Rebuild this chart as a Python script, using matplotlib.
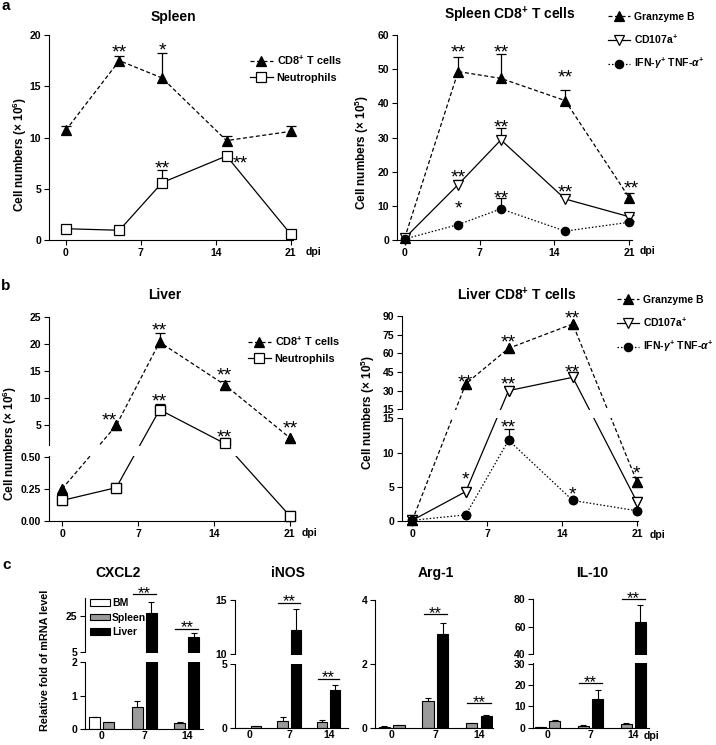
import numpy as np
import matplotlib
matplotlib.use("Agg")
import matplotlib.pyplot as plt

plt.rcParams['font.family'] = ['Liberation Sans', 'DejaVu Sans']
plt.rcParams['font.weight'] = 'bold'
plt.rcParams['mathtext.fontset'] = 'custom'
plt.rcParams['mathtext.rm'] = 'Liberation Sans:bold'
plt.rcParams['mathtext.it'] = 'Liberation Sans:bold:italic'
plt.rcParams['mathtext.bf'] = 'Liberation Sans:bold'
plt.rcParams['axes.linewidth'] = 0.8

# ---------------- data ----------------
days = [0, 5, 9, 15, 21]
dpi_ticks = [0, 7, 14, 21]

# a, spleen (x10^6)
spl_cd8 = [10.7, 17.5, 15.8, 9.7, 10.6]
spl_cd8_err = [0.4, 0.5, 2.4, 0.4, 0.5]
spl_neu = [1.1, 0.95, 5.6, 8.2, 0.55]
spl_neu_err = [0, 0, 1.2, 0.2, 0]
# a, spleen CD8+ subsets (x10^5)
spl_gzb = [0.5, 49.3, 47.3, 40.8, 12.3]
spl_gzb_err = [0, 4.3, 7.1, 3.2, 1.5]
spl_cd107 = [0.5, 16.2, 29.3, 12.0, 6.8]
spl_cd107_err = [0, 1.5, 3.6, 0.8, 0.5]
spl_ifn = [0.3, 4.5, 9.1, 2.6, 5.2]
spl_ifn_err = [0, 0, 3.2, 0, 0.3]

# b, liver (x10^6)
liv_cd8 = [0.25, 4.9, 20.3, 12.4, 2.6]
liv_cd8_err = [0, 0, 1.6, 0.8, 0]
liv_neu = [0.16, 0.26, 7.8, 1.55, 0.04]
liv_neu_err = [0, 0, 1.1, 0, 0]
# b, liver CD8+ subsets (x10^5)
liv_gzb = [0.1, 35.5, 64.0, 83.6, 5.75]
liv_gzb_err = [0, 0, 0, 0, 0.7]
liv_cd107 = [0.1, 4.3, 30.0, 40.7, 2.8]
liv_cd107_err = [0, 0, 0, 0, 0]
liv_ifn = [0.1, 0.9, 11.8, 3.0, 1.5]
liv_ifn_err = [0, 0, 1.7, 0, 0]

stars_a1 = [(5, 18.9, '**'), (9, 19.1, '*'), (9, 7.6, '**'), (16.3, 8.1, '**')]
stars_a2 = [(5, 56.6, '**'), (9, 56.8, '**'), (15, 49.3, '**'), (21.2, 16.8, '**'),
            (5, 20.0, '**'), (9, 34.6, '**'), (15, 15.6, '**'),
            (5, 10.9, '*'), (9, 13.8, '**')]
stars_b1 = [(4.4, 7.0, '**'), (9, 23.5, '**'), (15, 15.2, '**'), (21, 5.4, '**'),
            (9, 10.5, '**'), (15, 3.8, '**')]
stars_b2 = [(5, 41.8, '**'), (9, 73.4, '**'), (15, 92.7, '**'), (21, 7.9, '*'),
            (5, 6.9, '*'), (9, 39.9, '**'), (15, 49.2, '**'),
            (9, 14.5, '**'), (15, 4.8, '*')]

# c, relative mRNA (groups 0, 7, 14 dpi)
groups = ['0', '7', '14']
genes = ['CXCL2', 'iNOS', 'Arg-1', 'IL-10']
bm = {'CXCL2': [0.35], 'iNOS': [0.03], 'Arg-1': [0.05], 'IL-10': [0.2]}
bm_err = {'CXCL2': [0.01], 'iNOS': [0.0], 'Arg-1': [0.01], 'IL-10': [0.05]}
spleen = {'CXCL2': [0.20, 0.67, 0.19], 'iNOS': [0.17, 0.57, 0.47],
          'Arg-1': [0.09, 0.85, 0.16], 'IL-10': [3.1, 0.9, 1.8]}
spleen_err = {'CXCL2': [0.02, 0.16, 0.02], 'iNOS': [0.02, 0.3, 0.18],
              'Arg-1': [0.01, 0.1, 0.02], 'IL-10': [0.5, 0.2, 0.3]}
liver = {'CXCL2': [26.7, 13.5], 'iNOS': [12.2, 3.0],
         'Arg-1': [2.95, 0.38], 'IL-10': [13.5, 63.5]}
liver_err = {'CXCL2': [6.3, 2.2], 'iNOS': [2.0, 0.36],
             'Arg-1': [0.33, 0.05], 'IL-10': [4.2, 12.0]}
sig = {'CXCL2': [37, 18], 'iNOS': [14.75, 3.87], 'Arg-1': [3.55, 0.78], 'IL-10': [20.9, 80]}

# ---------------- helpers ----------------
W, H = 716, 745
fig = plt.figure(figsize=(W / 100, H / 100), dpi=100)


def px_axes(l, t, r, b):
    ax = fig.add_axes([l / W, 1 - b / H, (r - l) / W, (b - t) / H])
    ax.spines[['top', 'right']].set_visible(False)
    ax.tick_params(direction='out', length=3.5, width=0.8, labelsize=7.5, pad=2)
    ax.patch.set_alpha(0)
    return ax


def broken(y0, y1, k0, k1, gap):
    a = y0 * k0

    def fwd(y):
        y = np.asarray(y, float)
        return np.where(y <= y0, y * k0,
                        np.where(y >= y1, a + gap + (y - y1) * k1,
                                 a + (y - y0) / (y1 - y0) * gap))

    def inv(v):
        v = np.asarray(v, float)
        return np.where(v <= a, v / k0,
                        np.where(v >= a + gap, y1 + (v - a - gap) / k1,
                                 y0 + (v - a) / gap * (y1 - y0)))
    return fwd, inv


def cut(ax, y0, y1, funcs, wpx, right=0.0):
    fwd, inv = funcs
    lo = float(inv(fwd(y0) + 0.7))
    hi = float(inv(fwd(y1) - 0.7))
    ax.axhspan(lo, hi, xmin=-2.5 / wpx, xmax=1 + right, color='white', zorder=4,
               clip_on=False, lw=0)


def up_err(ax, x, y, e, cap=3.5, lw=0.9):
    x, y, e = np.asarray(x, float), np.asarray(y, float), np.asarray(e, float)
    m = e > 0
    if not m.any():
        return
    c = ax.errorbar(x[m], y[m], yerr=[np.zeros(m.sum()), e[m]], fmt='none', ecolor='k',
                    elinewidth=lw, capsize=cap, capthick=lw, zorder=2.5)
    c[1][0].set_visible(False)
    for art in c[1] + c[2]:
        art.set_clip_on(False)


def star(ax, x, y, s, size=14, dy=0.0):
    ax.annotate(s, (x, y), xytext=(0, dy - 0.57 * size), textcoords='offset points',
                ha='center', va='baseline', fontsize=size, fontweight='normal',
                zorder=7, annotation_clip=False)


def series(ax, y, err, style, label, overlay=False):
    ls, dashes, marker, fc, ms = style
    kw = dict(color='k', lw=0.9, marker=marker, ms=ms, mfc=fc, mec='k', mew=0.9)
    ln, = ax.plot(days, y, ls=ls, label=label, zorder=3, clip_on=False, **kw)
    if dashes:
        ln.set_dashes(dashes)
    up_err(ax, days, y, err)
    if overlay:
        ax.plot(days, y, ls='none', zorder=6, clip_on=False, **kw)


DASH = ('--', (3.2, 2.0), '^', 'k', 6.5)
SOLID_SQ = ('-', None, 's', 'white', 6.5)
SOLID_TRI = ('-', None, 'v', 'white', 6.5)
DOT = (':', (1.2, 1.6), 'o', 'k', 6)


def xdays(ax, xmin, xmax):
    ax.set_xlim(xmin, xmax)
    ax.set_xticks(dpi_ticks)


def legend(ax, x, y, spacing, size=7.8):
    ax.legend(loc='upper left', bbox_to_anchor=(x / W, 1 - y / H), bbox_transform=fig.transFigure,
              frameon=False, fontsize=size, handlelength=2.1, handletextpad=0.35,
              labelspacing=spacing, borderpad=0, borderaxespad=0)


def ftext(x, y, s, **kw):
    fig.text(x / W, 1 - y / H, s, **kw)


# ---------------- a: spleen ----------------
ax = px_axes(49, 35, 293, 240)
series(ax, spl_cd8, spl_cd8_err, DASH, 'CD8$^{+}$ T cells')
series(ax, spl_neu, spl_neu_err, SOLID_SQ, 'Neutrophils')
xdays(ax, -1.56, 21.2)
ax.set_ylim(0, 20)
ax.set_yticks([0, 5, 10, 15, 20])
for x, y, s in stars_a1:
    star(ax, x, y, s)
legend(ax, 250, 54, 0.5)

ax = px_axes(397, 35, 631.5, 240)
series(ax, spl_gzb, spl_gzb_err, DASH, 'Granzyme B')
series(ax, spl_cd107, spl_cd107_err, SOLID_TRI, 'CD107a$^{+}$')
series(ax, spl_ifn, spl_ifn_err, DOT, 'IFN-$\\gamma^{+}$ TNF-$\\alpha^{+}$')
xdays(ax, -0.71, 21.2)
ax.set_ylim(0, 60)
ax.set_yticks(range(0, 61, 10))
for x, y, s in stars_a2:
    star(ax, x, y, s)
legend(ax, 608, 12, 1.0, size=7.5)

# ---------------- b: liver ----------------
ax = px_axes(49, 316.7, 292, 521)
f_b1 = broken(0.5, 1.3, 128.6, 5.417, 12)
ax.set_yscale('function', functions=f_b1)
series(ax, liv_cd8, liv_cd8_err, DASH, 'CD8$^{+}$ T cells', overlay=True)
series(ax, liv_neu, liv_neu_err, SOLID_SQ, 'Neutrophils', overlay=True)
xdays(ax, -1.2, 21.2)
ax.set_ylim(0, 25)
ax.set_yticks([0, 0.25, 0.5, 5, 10, 15, 20, 25])
ax.set_yticklabels(['0.00', '0.25', '0.50', '5', '10', '15', '20', '25'])
cut(ax, 0.5, 1.3, f_b1, 243, right=0.02)
for x, y, s in stars_b1:
    star(ax, x, y, s)
legend(ax, 248, 335, 0.5)

ax = px_axes(401.7, 316, 638, 521)
f_b2 = broken(15, 15.001, 6.847, 1.244, 9)
ax.set_yscale('function', functions=f_b2)
series(ax, liv_gzb, liv_gzb_err, DASH, 'Granzyme B', overlay=True)
series(ax, liv_cd107, liv_cd107_err, SOLID_TRI, 'CD107a$^{+}$', overlay=True)
series(ax, liv_ifn, liv_ifn_err, DOT, 'IFN-$\\gamma^{+}$ TNF-$\\alpha^{+}$', overlay=True)
xdays(ax, -0.99, 21.1)
ax.set_ylim(0, 90)
ax.set_yticks([0, 5, 10, 15, 15.001, 30, 45, 60, 75, 90])
ax.set_yticklabels(['0', '5', '10', '15', '15', '30', '45', '60', '75', '90'])
cut(ax, 15, 15.001, f_b2, 236, right=0.02)
for x, y, s in stars_b2:
    star(ax, x, y, s)
legend(ax, 617, 295, 1.0, size=7.5)

# ---------------- c: mRNA bars ----------------
off, bw = 0.165, 0.26
bm_pos = [0 - off]
spleen_pos = [0 + off, 1 - off, 2 - off]
liver_pos = [1 + off, 2 + off]

c_axes = {
    'CXCL2': ((85, 598, 203, 729), (-0.39, 2.38), broken(2, 5, 33.25, 1.8, 10.4), (2, 5), 35,
              [0, 1, 2, 5, 25]),
    'iNOS': ((235, 600, 348, 728.3), (-0.37, 2.49), broken(5, 10, 12.8, 10.8, 10.3), (5, 10), 15,
             [0, 5, 10, 15]),
    'Arg-1': ((375, 600, 493, 728.3), (-0.38, 2.32), None, None, 4, [0, 2, 4]),
    'IL-10': ((533.3, 599, 649.3, 727.7), (-0.33, 2.37), broken(30, 40, 2.123, 1.375, 10), (30, 40), 80,
              [0, 10, 20, 30, 40, 60, 80]),
}
titles_x = {'CXCL2': 118, 'iNOS': 288, 'Arg-1': 436, 'IL-10': 592}

for g in genes:
    box, xl, funcs, brk, top, yt = c_axes[g]
    ax = px_axes(*box)
    ax.tick_params(axis='x', length=0, pad=1.5)
    if funcs is not None:
        ax.set_yscale('function', functions=funcs)
    ax.bar(bm_pos, bm[g], bw, color='white', edgecolor='k', lw=0.8, label='BM')
    ax.bar(spleen_pos, spleen[g], bw, color='#9a9a9a', edgecolor='k', lw=0.8, label='Spleen')
    ax.bar(liver_pos, liver[g], bw, color='black', edgecolor='k', lw=0.8, label='Liver')
    up_err(ax, bm_pos, bm[g], bm_err[g], cap=2.5, lw=0.8)
    up_err(ax, spleen_pos, spleen[g], spleen_err[g], cap=2.5, lw=0.8)
    up_err(ax, liver_pos, liver[g], liver_err[g], cap=2.5, lw=0.8)
    ax.set_xlim(*xl)
    ax.set_ylim(0, top)
    ax.set_yticks(yt)
    ax.set_yticklabels([str(v) for v in yt])
    ax.set_xticks([0, 1, 2])
    ax.set_xticklabels(groups)
    if brk is not None:
        cut(ax, brk[0], brk[1], funcs, box[2] - box[0])
    for gi, yv in zip([1, 2], sig[g]):
        ax.plot([gi - 0.27, gi + 0.27], [yv, yv], color='k', lw=0.9, clip_on=False, zorder=7)
        star(ax, gi, yv, '**', size=12, dy=4.2)
    ftext(titles_x[g], 573, g, ha='center', va='center', fontsize=10)
    if g == 'CXCL2':
        ax.legend(loc='upper left', bbox_to_anchor=(90 / W, 1 - 598 / H),
                  bbox_transform=fig.transFigure, frameon=False, fontsize=7.5,
                  handlelength=1.9, handleheight=0.6, handletextpad=0.2,
                  labelspacing=0.45, borderpad=0, borderaxespad=0)
    if g == 'IL-10':
        ax.annotate('dpi', (2, 0), xytext=(13, -6), textcoords='offset points',
                    xycoords=('data', 'axes fraction'), ha='center', va='center', fontsize=7.5)

# ---------------- figure text ----------------
ftext(1, 9.5, 'a', fontsize=11, va='baseline')
ftext(1, 290.5, 'b', fontsize=11, va='baseline')
ftext(2, 569, 'c', fontsize=11, va='baseline')

ftext(173, 17, 'Spleen', ha='center', va='center', fontsize=10)
ftext(510, 15, 'Spleen CD8$^{+}$ T cells', ha='center', va='center', fontsize=10)
ftext(165, 295, 'Liver', ha='center', va='center', fontsize=10)
ftext(517, 295, 'Liver CD8$^{+}$ T cells', ha='center', va='center', fontsize=10)

ftext(20, 154, 'Cell numbers (× 10$^{6}$)', rotation=90, ha='center', va='center', fontsize=8.5)
ftext(362, 152, 'Cell numbers (× 10$^{5}$)', rotation=90, ha='center', va='center', fontsize=8.5)
ftext(10, 443, 'Cell numbers (× 10$^{6}$)', rotation=90, ha='center', va='center', fontsize=8.5)
ftext(368, 412, 'Cell numbers (× 10$^{5}$)', rotation=90, ha='center', va='center', fontsize=8.5)
ftext(45, 660, 'Relative fold of mRNA level', rotation=90, ha='center', va='center', fontsize=7.8)

ftext(313, 252, 'dpi', ha='center', va='center', fontsize=7.5)
ftext(648, 251, 'dpi', ha='center', va='center', fontsize=7.5)
ftext(310, 533, 'dpi', ha='center', va='center', fontsize=7.5)
ftext(657, 535, 'dpi', ha='center', va='center', fontsize=7.5)

fig.savefig('out.png', dpi=100)
